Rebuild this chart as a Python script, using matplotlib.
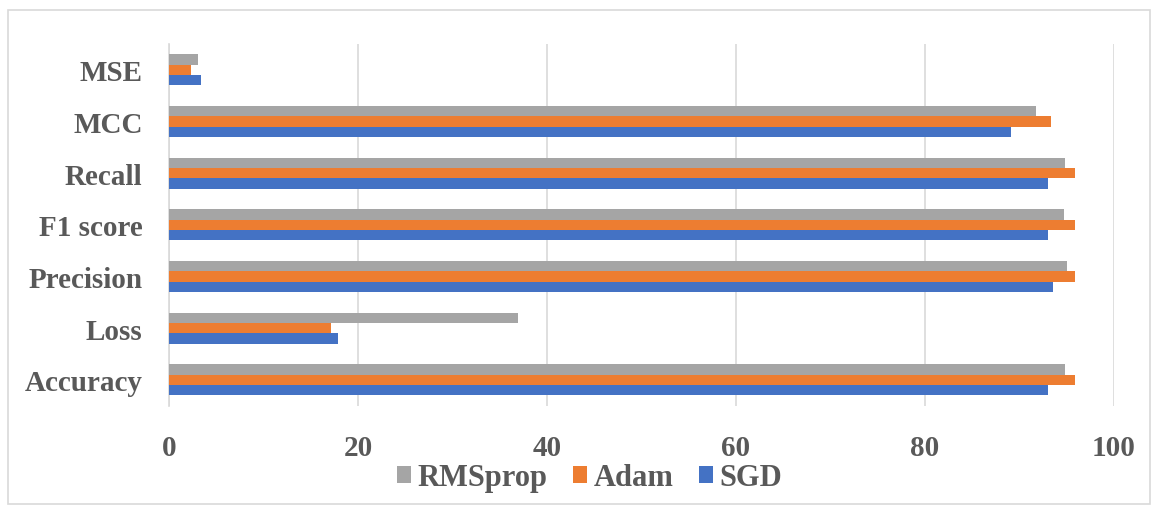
import matplotlib
matplotlib.use("Agg")
import matplotlib.pyplot as plt
import numpy as np
from matplotlib.patches import Rectangle

categories = ["Accuracy", "Loss", "Precision", "F1 score", "Recall", "MCC", "MSE"]
rmsprop = [94.8, 36.9, 95.0, 94.7, 94.8, 91.7, 3.1]
adam = [95.9, 17.1, 95.9, 95.9, 95.9, 93.3, 2.3]
sgd = [93.0, 17.9, 93.5, 93.0, 93.0, 89.1, 3.4]
xticks = [0, 20, 40, 60, 80, 100]

plt.rcParams['font.family'] = ['Liberation Serif', 'DejaVu Serif']
txt = '#595959'

fig = plt.figure(figsize=(11.52, 5.06), dpi=100)
ax = fig.add_axes([0.1467, 0.196, 0.8203, 0.715])

y = np.arange(len(categories))
h = 0.2
ax.barh(y + h, rmsprop, height=h, color='#A5A5A5', label='RMSprop', zorder=3)
ax.barh(y, adam, height=h, color='#ED7D31', label='Adam', zorder=3)
ax.barh(y - h, sgd, height=h, color='#4472C4', label='SGD', zorder=3)

ax.set_xlim(0, 100)
ax.set_ylim(-0.5, len(categories) - 0.5)
ax.set_xticks(xticks)
ax.set_xticklabels([str(v) for v in xticks], fontsize=21, fontweight='bold', color=txt)
ax.set_yticks(y)
ax.set_yticklabels(categories, fontsize=21, fontweight='bold', color=txt)
ax.tick_params(axis='x', length=0, pad=20)
ax.tick_params(axis='y', length=0, pad=19)
ax.grid(axis='x', color='#D9D9D9', linewidth=1.2, zorder=0)
for s in ['top', 'right', 'bottom']:
    ax.spines[s].set_visible(False)
ax.spines['left'].set_color('#D9D9D9')
ax.spines['left'].set_linewidth(1.2)

handles, labels = ax.get_legend_handles_labels()
fig.legend(handles, labels, loc='center', bbox_to_anchor=(0.512, 0.054), ncol=3,
           frameon=False, prop={'size': 22, 'weight': 'bold'}, labelcolor=txt,
           handlelength=0.46, handleheight=0.46, handletextpad=0.2, columnspacing=0.85)

fig.patches.append(Rectangle((8/1152, 1-505/506), (1150-8)/1152, (505-11)/506,
                             transform=fig.transFigure, fill=False,
                             edgecolor='#D9D9D9', linewidth=1.2))

fig.savefig('out.png', dpi=100)
